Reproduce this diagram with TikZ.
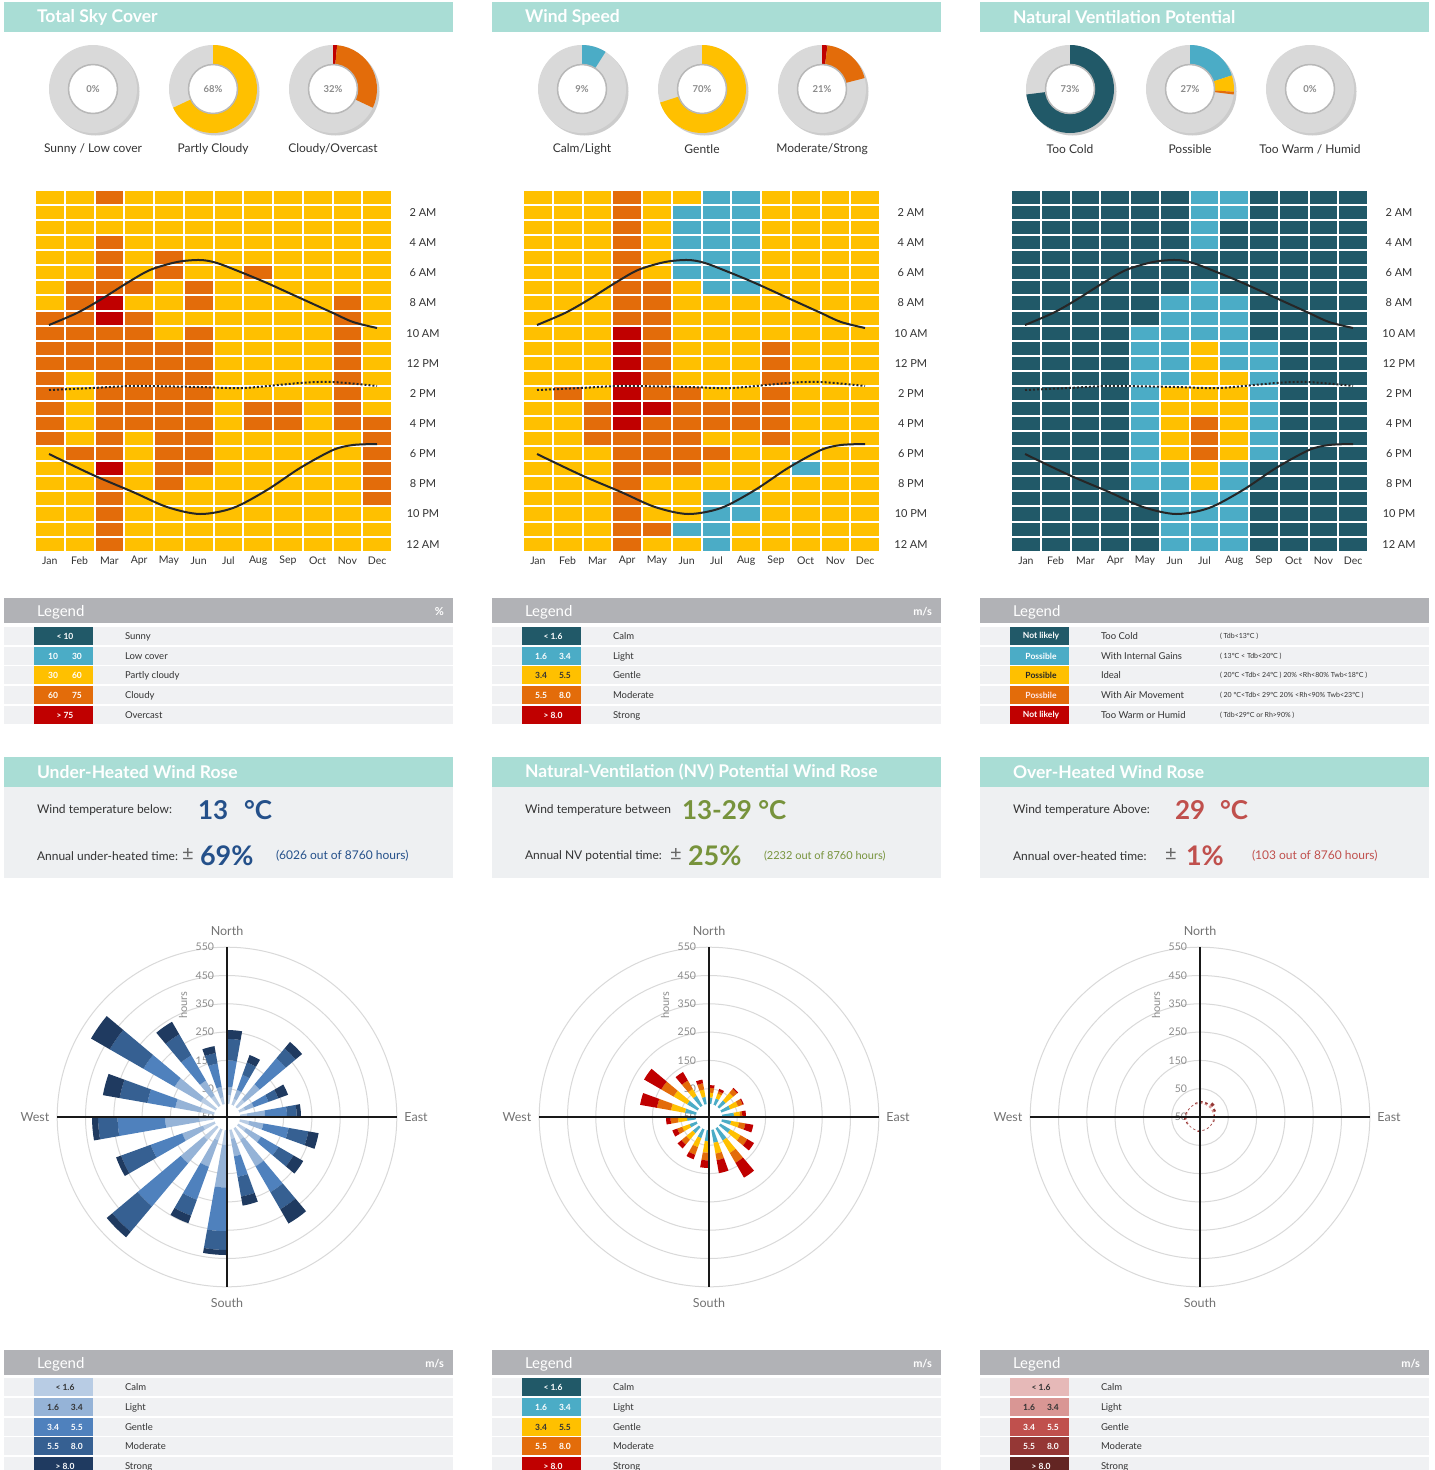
\documentclass[tikz,border=0pt]{standalone}
\usepackage{fontspec}
\setmainfont{Lato}
\newcommand\myfs[1]{\fontsize{#1}{#1}\selectfont}
\definecolor{hdrteal}{HTML}{A9DDD5}
\definecolor{leggray}{HTML}{B1B2B6}
\definecolor{rowbg}{HTML}{F0F1F3}
\definecolor{boxbg}{HTML}{EEF0F2}
\definecolor{cD}{HTML}{215968}
\definecolor{cB}{HTML}{4BACC6}
\definecolor{cY}{HTML}{FFC000}
\definecolor{cO}{HTML}{E36C0A}
\definecolor{cR}{HTML}{C00000}
\definecolor{wb1}{HTML}{B8CCE4}
\definecolor{wb2}{HTML}{95B3D7}
\definecolor{wb3}{HTML}{4F81BD}
\definecolor{wb4}{HTML}{366092}
\definecolor{wb5}{HTML}{1F3A60}
\definecolor{wr1}{HTML}{E6B9B8}
\definecolor{wr2}{HTML}{D99694}
\definecolor{wr3}{HTML}{C0504D}
\definecolor{wr4}{HTML}{953735}
\definecolor{wr5}{HTML}{632523}
\definecolor{txtdark}{HTML}{333333}
\definecolor{numblue}{HTML}{24508A}
\definecolor{numgreen}{HTML}{77933C}
\definecolor{numred}{HTML}{C0504D}
\definecolor{donutgray}{HTML}{D9D9D9}
\tikzset{
 hdrtitle/.style={anchor=west,text=white,font=\bfseries\myfs{17.5}},
 legtitle/.style={anchor=west,text=white,font=\myfs{15}},
 legunit/.style={anchor=east,text=white,font=\bfseries\myfs{11}},
 swtext/.style={font=\bfseries\myfs{8.5}},
 legdesc/.style={anchor=west,text=txtdark,font=\myfs{9.5}},
 legnote/.style={anchor=west,text=txtdark,font=\myfs{7}},
 hourlbl/.style={text=txtdark,font=\myfs{11}},
 monthlbl/.style={text=txtdark,font=\myfs{10.5}},
 donutlbl/.style={text=txtdark,font=\myfs{12}},
 donutpct/.style={text=black!45,font=\bfseries\myfs{9.5}},
 infotxt/.style={anchor=west,text=txtdark,font=\myfs{12}},
 bignum/.style={anchor=west,font=\bfseries\myfs{26}},
 pmsign/.style={anchor=west,text=black!60,font=\myfs{20}},
 smallnote/.style={anchor=west,font=\myfs{12}},
 compass/.style={text=black!55,font=\myfs{12.5}},
 ringlbl/.style={anchor=east,text=black!45,font=\myfs{10.5}},
 hourstxt/.style={text=black!45,font=\myfs{11},rotate=90},
 ring/.style={draw=black!15,line width=1pt},
 axisline/.style={draw=black!90,line width=2pt},
 sunline/.style={draw=black!85,line width=2pt},
 noonline/.style={draw=black!85,line width=2pt,dash pattern=on 2pt off 2pt},
}
\newcommand\mysector[5]{\fill[#1] ({#2}:{#4}) -- ({#2}:{#5}) arc[start angle={#2}, end angle={#3}, radius={#5}] -- ({#3}:{#4}) arc[start angle={#3}, end angle={#2}, radius={#4}] -- cycle;}
\newcommand\sechead[3]{\fill[hdrteal] (#1,#2) rectangle ++(449,30);
 \node[hdrtitle] (sh-#1-#2) at (#1+33,#2+15) {#3};}
\newcommand\leghead[3]{\fill[leggray] (#1,#2) rectangle ++(449,25);
 \node[legtitle] (lh-#1-#2) at (#1+33,#2+14) {Legend};
 \node[legunit] (lu-#1-#2) at (#1+440,#2+14) {#3};}
\newcommand\legrow[6]{\fill[rowbg] (#1,#2) rectangle ++(449,18);
 \fill[#3] (#1+30,#2) rectangle ++(59,18);
 \node[swtext,text=#5] (sw-#1-#2) at (#1+61,#2+9) {#4};
 \node[legdesc] (ld-#1-#2) at (#1+121,#2+9.5) {#6};}
\newcommand\donutA[2]{\fill[black!20] (#1+2.5,#2+2.5) circle[radius=44];
 \fill[donutgray] (#1,#2) circle[radius=44];}
\newcommand\donutB[5]{\fill[white] (#1,#2) circle[radius=24];
 \draw[black!28,line width=1.5pt] (#1,#2) circle[radius=24.5];
 \node[donutpct] (dp-#5) at (#1,#2) {#3};
 \node[donutlbl] (dl-#5) at (#1,149) {#4};}
\newcommand\dseg[5]{\begin{scope}[shift={(#1,#2)},yscale=-1]
 \mysector{#3}{90-3.6*#4}{90-3.6*#5}{24}{44}\end{scope}}
\newcommand\bluebar[5]{%
 \pgfmathsetmacro\angA{95-#1}\pgfmathsetmacro\angB{85-#1}%
 \pgfmathsetmacro\rbA{13+0.12*(#2-13)}\pgfmathsetmacro\rbB{13+#3*(#2-13)}%
 \pgfmathsetmacro\rbC{13+#4*(#2-13)}\pgfmathsetmacro\rbD{13+#5*(#2-13)}%
 \mysector{wb1}{\angA}{\angB}{13}{\rbA}\mysector{wb2}{\angA}{\angB}{\rbA}{\rbB}%
 \mysector{wb3}{\angA}{\angB}{\rbB}{\rbC}\mysector{wb4}{\angA}{\angB}{\rbC}{\rbD}%
 \mysector{wb5}{\angA}{\angB}{\rbD}{#2}}
\newcommand\nvbar[5]{%
 \pgfmathsetmacro\angA{95-#1}\pgfmathsetmacro\angB{85-#1}%
 \pgfmathsetmacro\rbB{13+#3*(#2-13)}%
 \pgfmathsetmacro\rbC{13+#4*(#2-13)}\pgfmathsetmacro\rbD{13+#5*(#2-13)}%
 \mysector{cB}{\angA}{\angB}{13}{\rbB}\mysector{cY}{\angA}{\angB}{\rbB}{\rbC}%
 \mysector{cO}{\angA}{\angB}{\rbC}{\rbD}\mysector{cR}{\angA}{\angB}{\rbD}{#2}}
\newcommand\redbar[2]{%
 \pgfmathsetmacro\angA{95-#1}\pgfmathsetmacro\angB{85-#1}%
 \pgfmathsetmacro\rbB{13+0.5*(#2-13)}%
 \mysector{wr2}{\angA}{\angB}{13}{\rbB}\mysector{wr4}{\angA}{\angB}{\rbB}{#2}}
\newcommand\roseframe[3]{%
 \begin{scope}[shift={(#1,#2)},yscale=-1]
 \foreach \k in {1,...,6} \draw[ring] (0,0) circle[radius={28.3*\k}];
 \end{scope}
 \foreach \v [count=\k] in {50,150,250,350,450,550} \node[ringlbl] (#3r\k) at (#1-13,{#2-28.3*\k}) {\v};
 \node[ringlbl] (#3r0) at (#1-13,#2) {-50};
 \node[hourstxt] (#3h) at (#1-44,#2-112) {hours};
 \node[compass] (#3N) at (#1,#2-186) {North};
 \node[compass] (#3S) at (#1,#2+186) {South};
 \node[compass] (#3W) at (#1-192,#2) {West};
 \node[compass] (#3E) at (#1+189,#2) {East};}
\newcommand\roseaxes[2]{%
 \begin{scope}[shift={(#1,#2)},yscale=-1]
 \fill[white] (0,0) circle[radius=13];
 \coordinate (axn) at (0,170); \coordinate (axs) at (0,-170);
 \coordinate (axw) at (-170,0); \coordinate (axe) at (170,0);
 \draw[axisline] (axn) -- (axs); \draw[axisline] (axw) -- (axe);
 \end{scope}}
\newcommand\curves{%
 \draw[sunline] plot[smooth] coordinates {(14,135) (42,123) (65,110) (92,93) (115,80) (142,72) (165,70) (182,73) (208,83) (232,93) (265,108) (298,123) (318,132) (342,138)};
 \draw[sunline] plot[smooth] coordinates {(14,264) (58,285) (98,302) (132,317) (165,324) (198,318) (232,300) (265,278) (298,260) (318,255) (342,254)};
 \draw[noonline] plot[smooth] coordinates {(14,200) (58,198) (98,196) (165,197) (208,198) (265,193) (298,192) (342,196)};}
\newcommand\cells[1]{%
 \foreach \row [count=\i from 0] in {#1} {
  \foreach \c [count=\j from 0] in \row {
   \fill[fill=c\c] ({\j*29.75+1},{\i*15.07+1}) rectangle ++(27.75,13.07);
  }}}
\newcommand\axislabels[2]{%
 \foreach \t [count=\k from 0] in {2 AM,4 AM,6 AM,8 AM,10 AM,12 PM,2 PM,4 PM,6 PM,8 PM,10 PM,12 AM}
  \node[hourlbl] (#2t\k) at (#1+388,{212.6+30.14*\k}) {\t};
 \foreach \m [count=\k from 0] in {Jan,Feb,Mar,Apr,May,Jun,Jul,Aug,Sep,Oct,Nov,Dec}
  \node[monthlbl] (#2m\k) at ({#1+14.9+29.75*\k},561) {\m};}
\begin{document}
\begin{tikzpicture}[x=1pt,y=-1pt,every node/.style={inner sep=0pt,outer sep=0pt}]
\useasboundingbox (0,0) rectangle (1435,1470);
\clip (0,0) rectangle (1435,1470);
\fill[white] (0,0) rectangle (1435,1470);
% ---------- headers
\sechead{4}{2}{Total Sky Cover}
\sechead{492}{2}{Wind Speed}
\sechead{980}{2}{Natural Ventilation Potential}
% ---------- donuts
\donutA{93}{89}\donutB{93}{89}{0\%}{Sunny / Low cover}{a1}
\donutA{213}{89}\dseg{213}{89}{cY}{0}{68}\donutB{213}{89}{68\%}{Partly Cloudy}{a2}
\donutA{333}{89}\dseg{333}{89}{cR}{0}{1.5}\dseg{333}{89}{cO}{1.5}{32}\donutB{333}{89}{32\%}{Cloudy/Overcast}{a3}
\donutA{582}{89}\dseg{582}{89}{cB}{0}{9}\donutB{582}{89}{9\%}{Calm/Light}{b1}
\donutA{702}{89}\dseg{702}{89}{cY}{0}{70}\donutB{702}{89}{70\%}{Gentle}{b2}
\donutA{822}{89}\dseg{822}{89}{cR}{0}{2}\dseg{822}{89}{cO}{2}{21}\donutB{822}{89}{21\%}{Moderate/Strong}{b3}
\donutA{1070}{89}\dseg{1070}{89}{cD}{0}{73}\donutB{1070}{89}{73\%}{Too Cold}{c1}
\donutA{1190}{89}\dseg{1190}{89}{cB}{0}{20}\dseg{1190}{89}{cY}{20}{26}\dseg{1190}{89}{cO}{26}{27}\donutB{1190}{89}{27\%}{Possible}{c2}
\donutA{1310}{89}\donutB{1310}{89}{0\%}{Too Warm / Humid}{c3}
% ---------- heat maps
\begin{scope}[shift={(35,190)}]
\cells{{Y,Y,O,Y,Y,Y,Y,Y,Y,Y,Y,Y},{Y,Y,Y,Y,Y,Y,Y,Y,Y,Y,Y,Y},{Y,Y,Y,Y,Y,Y,Y,Y,Y,Y,Y,Y},{Y,Y,O,Y,Y,Y,Y,Y,Y,Y,Y,Y},
{Y,Y,O,Y,O,Y,Y,Y,Y,Y,Y,Y},{Y,Y,O,Y,O,Y,Y,O,Y,Y,Y,Y},{Y,O,O,O,Y,O,Y,Y,Y,Y,Y,Y},{Y,O,R,Y,Y,O,Y,Y,Y,Y,O,Y},
{O,O,R,O,Y,Y,Y,Y,Y,Y,O,Y},{O,O,O,O,Y,O,Y,Y,Y,Y,O,Y},{O,O,O,O,O,O,Y,Y,Y,Y,O,Y},{O,O,O,O,O,O,Y,Y,Y,Y,O,Y},
{O,Y,O,O,O,O,Y,Y,Y,Y,O,Y},{O,Y,O,O,O,O,Y,Y,Y,Y,O,Y},{O,Y,O,O,O,O,Y,O,O,Y,O,Y},{O,Y,O,O,O,O,Y,O,O,Y,O,O},
{O,Y,O,Y,O,O,Y,Y,Y,Y,Y,O},{Y,O,O,Y,O,O,Y,Y,Y,Y,Y,O},{Y,Y,R,Y,O,O,Y,Y,Y,Y,Y,O},{Y,Y,O,Y,O,Y,Y,Y,Y,Y,Y,O},
{Y,Y,O,Y,Y,Y,Y,Y,Y,Y,Y,O},{Y,Y,O,Y,Y,Y,Y,Y,Y,Y,Y,Y},{Y,Y,O,Y,Y,Y,Y,Y,Y,Y,Y,Y},{Y,Y,O,Y,Y,Y,Y,Y,Y,Y,Y,Y}}
\curves
\end{scope}
\begin{scope}[shift={(523,190)}]
\cells{{Y,Y,Y,O,Y,Y,B,B,Y,Y,Y,Y},{Y,Y,Y,O,Y,B,B,B,Y,Y,Y,Y},{Y,Y,Y,O,Y,B,B,B,Y,Y,Y,Y},{Y,Y,Y,O,Y,B,B,B,Y,Y,Y,Y},
{Y,Y,Y,O,Y,B,B,B,Y,Y,Y,Y},{Y,Y,Y,O,Y,B,B,B,Y,Y,Y,Y},{Y,Y,Y,O,O,Y,B,B,Y,Y,Y,Y},{Y,Y,Y,O,O,Y,Y,Y,Y,Y,Y,Y},
{Y,Y,Y,O,O,Y,Y,Y,Y,Y,Y,Y},{Y,Y,Y,R,O,Y,Y,Y,Y,Y,Y,Y},{Y,Y,Y,R,O,Y,Y,Y,O,Y,Y,Y},{Y,Y,Y,R,O,Y,Y,Y,O,Y,Y,Y},
{Y,Y,Y,R,O,Y,Y,Y,O,Y,Y,Y},{Y,O,Y,R,O,O,Y,Y,O,Y,Y,Y},{Y,Y,O,R,R,O,O,O,O,Y,Y,Y},{Y,Y,O,R,O,O,O,O,O,Y,Y,Y},
{Y,Y,O,O,O,O,Y,Y,O,Y,Y,Y},{Y,Y,Y,O,O,O,O,Y,Y,Y,Y,Y},{Y,Y,Y,O,O,O,Y,Y,Y,B,Y,Y},{Y,Y,Y,O,Y,Y,Y,Y,Y,Y,Y,Y},
{Y,Y,Y,O,Y,Y,B,B,Y,Y,Y,Y},{Y,Y,Y,O,Y,Y,B,B,Y,Y,Y,Y},{Y,Y,Y,O,O,B,B,Y,Y,Y,Y,Y},{Y,Y,Y,O,Y,Y,B,Y,Y,Y,Y,Y}}
\curves
\end{scope}
\begin{scope}[shift={(1011,190)}]
\cells{{D,D,D,D,D,D,B,B,D,D,D,D},{D,D,D,D,D,D,B,B,D,D,D,D},{D,D,D,D,D,D,B,D,D,D,D,D},{D,D,D,D,D,D,B,D,D,D,D,D},
{D,D,D,D,D,D,D,D,D,D,D,D},{D,D,D,D,D,D,D,D,D,D,D,D},{D,D,D,D,D,D,B,D,D,D,D,D},{D,D,D,D,D,B,B,B,D,D,D,D},
{D,D,D,D,D,B,B,B,D,D,D,D},{D,D,D,D,B,B,B,B,D,D,D,D},{D,D,D,D,B,B,Y,B,B,D,D,D},{D,D,D,D,B,B,Y,B,B,D,D,D},
{D,D,D,D,B,B,Y,Y,B,D,D,D},{D,D,D,D,B,Y,Y,Y,B,D,D,D},{D,D,D,D,B,Y,Y,Y,B,D,D,D},{D,D,D,D,B,Y,O,Y,B,D,D,D},
{D,D,D,D,B,Y,O,Y,B,D,D,D},{D,D,D,D,B,Y,O,Y,B,D,D,D},{D,D,D,D,B,B,Y,B,D,D,D,D},{D,D,D,D,B,B,Y,B,D,D,D,D},
{D,D,D,D,D,B,B,B,D,D,D,D},{D,D,D,D,D,B,B,B,D,D,D,D},{D,D,D,D,D,B,B,B,D,D,D,D},{D,D,D,D,D,B,B,B,D,D,D,D}}
\curves
\end{scope}
\axislabels{35}{ha}
\axislabels{523}{hb}
\axislabels{1011}{hc}
% ---------- top legends
\leghead{4}{598}{\%}
\legrow{4}{627}{cD}{< 10}{white}{Sunny}
\legrow{4}{647}{cB}{10\hspace{14pt}30}{white}{Low cover}
\legrow{4}{666}{cY}{30\hspace{14pt}60}{white}{Partly cloudy}
\legrow{4}{686}{cO}{60\hspace{14pt}75}{white}{Cloudy}
\legrow{4}{706}{cR}{> 75}{white}{Overcast}
\leghead{492}{598}{m/s}
\legrow{492}{627}{cD}{< 1.6}{white}{Calm}
\legrow{492}{647}{cB}{1.6\hspace{12pt}3.4}{white}{Light}
\legrow{492}{666}{cY}{3.4\hspace{12pt}5.5}{black!80}{Gentle}
\legrow{492}{686}{cO}{5.5\hspace{12pt}8.0}{white}{Moderate}
\legrow{492}{706}{cR}{> 8.0}{white}{Strong}
\leghead{980}{598}{}
\legrow{980}{627}{cD}{Not likely}{white}{Too Cold}
\legrow{980}{647}{cB}{Possible}{white}{With Internal Gains}
\legrow{980}{666}{cY}{Possible}{black!85}{Ideal}
\legrow{980}{686}{cO}{Possbile}{white!90!red}{With Air Movement}
\legrow{980}{706}{cR}{Not likely}{white}{Too Warm or Humid}
\node[legnote] (n1) at (1220,636) {( Tdb<13°C )};
\node[legnote] (n2) at (1220,656) {( 13°C <  Tdb<20°C )};
\node[legnote] (n3) at (1220,675) {( 20°C  <Tdb< 24°C )  20\% <Rh<80\%   Twb<18°C )};
\node[legnote] (n4) at (1220,695) {( 20 °C<Tdb< 29°C   20\% <Rh<90\%   Twb<23°C )};
\node[legnote] (n5) at (1220,715) {( Tdb<29°C or  Rh>90\% )};
% ---------- wind rose headers and info boxes
\sechead{4}{757}{Under-Heated Wind Rose}
\sechead{492}{757}{Natural-Ventilation (NV) Potential Wind Rose}
\sechead{980}{757}{Over-Heated Wind Rose}
\fill[boxbg] (4,787) rectangle (453,878);
\fill[boxbg] (492,787) rectangle (941,878);
\fill[boxbg] (980,787) rectangle (1429,878);
\node[infotxt] (i1a) at (37,810) {Wind temperature below:};
\node[bignum,text=numblue] (i1b) at (198,810) {13};
\node[bignum,text=numblue] (i1c) at (244,810) {°C};
\node[infotxt] (i1d) at (37,856) {Annual under-heated time:};
\node[pmsign] (i1e) at (182,854) {±};
\node[bignum,text=numblue,font=\bfseries\myfs{27}] (i1f) at (200,856) {69\%};
\node[smallnote,text=numblue] (i1g) at (276,856) {(6026 out of 8760 hours)};
\node[infotxt] (i2a) at (525,810) {Wind temperature between};
\node[bignum,text=numgreen] (i2b) at (682,810) {13-29 °C};
\node[infotxt] (i2d) at (525,856) {Annual NV potential time:};
\node[pmsign] (i2e) at (670,854) {±};
\node[bignum,text=numgreen,font=\bfseries\myfs{27}] (i2f) at (688,856) {25\%};
\node[smallnote,text=numgreen,font=\myfs{11}] (i2g) at (764,856) {(2232 out of 8760 hours)};
\node[infotxt] (i3a) at (1013,810) {Wind temperature Above:};
\node[bignum,text=numred] (i3b) at (1175,810) {29};
\node[bignum,text=numred] (i3c) at (1220,810) {°C};
\node[infotxt] (i3d) at (1013,856) {Annual over-heated time:};
\node[pmsign] (i3e) at (1165,854) {±};
\node[bignum,text=numred,font=\bfseries\myfs{27}] (i3f) at (1186,856) {1\%};
\node[smallnote,text=numred] (i3g) at (1252,856) {(103 out of 8760 hours)};
% ---------- wind roses
\roseframe{227}{1117}{ra}
\begin{scope}[shift={(227,1117)},yscale=-1]
\foreach \brg/\Rl/\pA/\pB/\pC in {5/87/0.23/0.59/0.88, 25/66/0.3/0.6/0.85, 45/98/0.35/0.75/0.9, 65/65/0.3/0.6/0.8, 85/74/0.41/0.77/0.93, 105/93/0.3/0.62/0.87, 125/88/0.35/0.62/0.85, 145/123/0.4/0.67/0.85, 165/90/0.35/0.62/0.88, 185/138/0.46/0.81/0.96, 205/113/0.4/0.75/0.92, 225/157/0.33/0.72/0.95, 245/118/0.33/0.65/0.95, 265/135/0.4/0.79/0.95, 285/126/0.35/0.6/0.85, 305/157/0.33/0.58/0.85, 325/110/0.3/0.6/0.85, 345/72/0.3/0.7/0.88}
 {\bluebar{\brg}{\Rl}{\pA}{\pB}{\pC}}
\end{scope}
\roseaxes{227}{1117}
\roseframe{709}{1117}{rb}
\begin{scope}[shift={(709,1117)},yscale=-1]
\foreach \brg/\Rl/\pA/\pB/\pC in {5/32/0.35/0.6/0.85, 25/30/0.4/0.7/0.85, 45/38/0.35/0.75/0.95, 65/37/0.4/0.75/0.95, 85/37/0.5/0.75/0.85, 105/45/0.3/0.55/0.75, 125/52/0.3/0.6/0.8, 145/70/0.25/0.5/0.7, 165/57/0.3/0.55/0.7, 185/51/0.3/0.6/0.8, 205/45/0.3/0.6/0.85, 225/41/0.3/0.6/0.82, 245/39/0.3/0.6/0.8, 265/43/0.3/0.6/0.85, 285/70/0.2/0.45/0.7, 305/75/0.2/0.45/0.68, 325/52/0.3/0.5/0.75, 345/38/0.3/0.6/0.85}
 {\nvbar{\brg}{\Rl}{\pA}{\pB}{\pC}}
\end{scope}
\roseaxes{709}{1117}
\roseframe{1200}{1117}{rc}
\begin{scope}[shift={(1200,1117)},yscale=-1]
\foreach \brg/\Rl in {5/16,25/16,45/19,65/17,85/15,105/15,125/14,145/14,165/14,185/15,205/14,225/14,245/15,265/16,285/15,305/14,325/14,345/15}
 {\redbar{\brg}{\Rl}}
\end{scope}
\roseaxes{1200}{1117}
% ---------- bottom legends
\leghead{4}{1350}{m/s}
\legrow{4}{1378}{wb1}{< 1.6}{black!80}{Calm}
\legrow{4}{1398}{wb2}{1.6\hspace{12pt}3.4}{black!80}{Light}
\legrow{4}{1418}{wb3}{3.4\hspace{12pt}5.5}{white}{Gentle}
\legrow{4}{1437}{wb4}{5.5\hspace{12pt}8.0}{white}{Moderate}
\legrow{4}{1457}{wb5}{> 8.0}{white}{Strong}
\leghead{492}{1350}{m/s}
\legrow{492}{1378}{cD}{< 1.6}{white}{Calm}
\legrow{492}{1398}{cB}{1.6\hspace{12pt}3.4}{white}{Light}
\legrow{492}{1418}{cY}{3.4\hspace{12pt}5.5}{black!80}{Gentle}
\legrow{492}{1437}{cO}{5.5\hspace{12pt}8.0}{white}{Moderate}
\legrow{492}{1457}{cR}{> 8.0}{white}{Strong}
\leghead{980}{1350}{m/s}
\legrow{980}{1378}{wr1}{< 1.6}{black!80}{Calm}
\legrow{980}{1398}{wr2}{1.6\hspace{12pt}3.4}{black!80}{Light}
\legrow{980}{1418}{wr3}{3.4\hspace{12pt}5.5}{white}{Gentle}
\legrow{980}{1437}{wr4}{5.5\hspace{12pt}8.0}{white}{Moderate}
\legrow{980}{1457}{wr5}{> 8.0}{white}{Strong}
\end{tikzpicture}
\end{document}
